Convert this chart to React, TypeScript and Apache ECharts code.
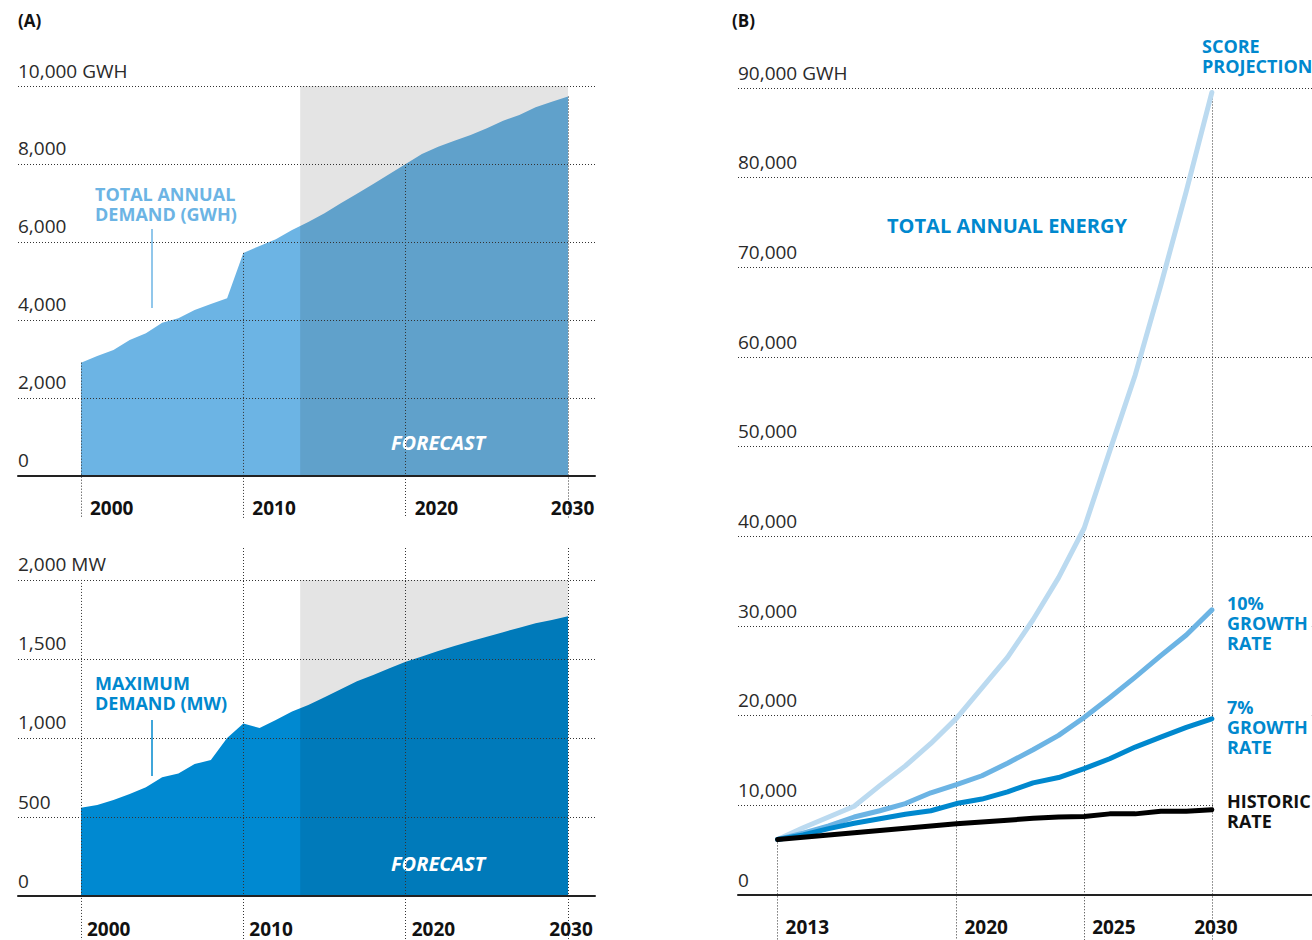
import React, { useEffect, useRef } from "react";
import * as echarts from "echarts";

// ---------- DATA ----------
const demandYears = [
  2000, 2001, 2002, 2003, 2004, 2005, 2006, 2007, 2008, 2009, 2010,
  2011, 2012, 2013, 2014, 2015, 2016, 2017, 2018, 2019, 2020,
  2021, 2022, 2023, 2024, 2025, 2026, 2027, 2028, 2029, 2030,
];
const annualDemandGWh = [
  2906, 3077, 3231, 3487, 3658, 3932, 4043, 4256, 4410, 4560, 5720,
  5900, 6068, 6308, 6513, 6735, 6991, 7239, 7487, 7744, 8000,
  8256, 8444, 8598, 8744, 8915, 9111, 9256, 9453, 9598, 9730,
];
const maxDemandMW = [
  559, 576, 608, 646, 688, 751, 776, 835, 861, 1000, 1092,
  1063, 1114, 1167, 1209, 1257, 1308, 1359, 1399, 1441, 1483,
  1515, 1551, 1582, 1612, 1641, 1669, 1698, 1726, 1747, 1770,
];
const forecastStart = 2013.5;
const forecastEnd = 2030;
const gwhTicks = [0, 2000, 4000, 6000, 8000, 10000];
const mwTicks = [0, 500, 1000, 1500, 2000];
const demandYearTicks = [2000, 2010, 2020, 2030];

const energyYears = [
  2013, 2014, 2015, 2016, 2017, 2018, 2019, 2020, 2021,
  2022, 2023, 2024, 2025, 2026, 2027, 2028, 2029, 2030,
];
const scoreProjection = [
  6200, 7500, 8700, 9900, 12200, 14400, 16900, 19700, 23100,
  26500, 30700, 35400, 40900, 49500, 58000, 68000, 78500, 89500,
];
const growth10 = [
  6200, 6900, 7700, 8700, 9400, 10200, 11400, 12300, 13300,
  14700, 16200, 17800, 19800, 22000, 24300, 26700, 29000, 31800,
];
const growth7 = [
  6200, 6700, 7400, 8000, 8500, 9000, 9400, 10200, 10700,
  11500, 12500, 13100, 14100, 15200, 16500, 17600, 18700, 19650,
];
const historicRate = [
  6200, 6450, 6700, 6950, 7200, 7450, 7700, 7950, 8150,
  8350, 8550, 8700, 8750, 9050, 9050, 9350, 9350, 9520,
];
const energyTicks = [0, 10000, 20000, 30000, 40000, 50000, 60000, 70000, 80000, 90000];
const energyYearTicks = [2013, 2020, 2025, 2030];

// ---------- STYLE ----------
const FONT = "'Open Sans', 'Noto Sans', sans-serif";
const BLUE = "#0088ce";
const LIGHT = "#6cb4e4";
const PALE = "#bbdaf0";
const DOT = { type: [1, 2] as any, color: "#333", width: 1 };

const pairs = (xs: number[], ys: number[]) => xs.map((x, i) => [x, ys[i]]);
const fmt = (v: number) => v.toLocaleString("en-US");

function hGrid(ticks: number[], unit: string) {
  const top = ticks[ticks.length - 1];
  return ticks.map((v) => ({
    yAxis: v,
    lineStyle: v === 0 ? { color: "rgba(0,0,0,0)" } : {},
    label: { show: true, formatter: v === top ? `${fmt(v)} ${unit}` : fmt(v) },
  }));
}

function vLines(xs: number[], topOf: (x: number) => number, bottom: number) {
  return xs.map((x) => [{ coord: [x, topOf(x)] }, { coord: [x, bottom] }]);
}

const gridLabel = {
  show: false,
  position: "insideStartTop",
  distance: [0, 6],
  color: "#2a2a2a",
  fontSize: 19,
  fontFamily: FONT,
};

function xAxisCfg(gridIndex: number, min: number, max: number, ticks: number[], margin: number, pad: number) {
  return {
    type: "value",
    gridIndex,
    min,
    max,
    z: 6,
    axisLine: { onZero: true, lineStyle: { color: "#222", width: 2 } },
    axisTick: { show: false },
    splitLine: { show: false },
    axisLabel: {
      customValues: ticks,
      align: "left",
      alignMaxLabel: "center",
      margin,
      lineHeight: 16,
      padding: [0, 0, 0, pad],
      color: "#111",
      fontSize: 19,
      fontWeight: "bold",
      fontFamily: FONT,
      formatter: (v: number) => String(v),
    },
  };
}

function yAxisCfg(gridIndex: number, min: number, max: number) {
  return { type: "value", gridIndex, min, max, show: false };
}

const forecastLabel = {
  show: true,
  position: "insideBottom",
  distance: 23,
  offset: [4, 0],
  formatter: "FORECAST",
  color: "#fff",
  fontSize: 20,
  fontWeight: "bold",
  fontStyle: "italic",
  fontFamily: FONT,
};

function buildOption() {
  const gwhTop = gwhTicks[gwhTicks.length - 1];
  const mwTop = mwTicks[mwTicks.length - 1];
  const valAt = (arr: number[], years: number[]) => (x: number) => arr[years.indexOf(x)];

  const txt = (
    text: string,
    x: number,
    y: number,
    fill: string,
    size: number,
    lh: number,
    align = "left",
    knockout = 0
  ) => ({
    type: "text",
    x: x - knockout,
    y,
    silent: true,
    z: 20,
    style: {
      text,
      fill,
      font: `bold ${size}px ${FONT}`,
      lineHeight: lh,
      align,
      verticalAlign: "top",
      ...(knockout ? { backgroundColor: "#fff", padding: [0, 4, 0, knockout] } : {}),
    },
  });
  const vline = (x: number, y1: number, y2: number, stroke: string) => ({
    type: "line",
    silent: true,
    shape: { x1: x, y1, x2: x, y2 },
    style: { stroke, lineWidth: 1.5 },
  });

  return {
    animation: false,
    backgroundColor: "#fff",
    textStyle: { fontFamily: FONT },
    grid: [
      { left: 18, right: 717, top: 86, bottom: 422, outerBoundsMode: "none", containLabel: false },
      { left: 18, right: 717, top: 548, bottom: 0, outerBoundsMode: "none", containLabel: false },
      { left: 738, right: 0, top: 88, bottom: 0, outerBoundsMode: "none", containLabel: false },
    ],
    xAxis: [
      xAxisCfg(0, 1996.12, 2031.66, demandYearTicks, -18.5, 9),
      xAxisCfg(1, 1996.12, 2031.66, demandYearTicks, -19, 6),
      xAxisCfg(2, 2011.45, 2033.92, energyYearTicks, -21, 8),
    ],
    yAxis: [yAxisCfg(0, -1077, 10000), yAxisCfg(1, -278, 2202), yAxisCfg(2, -5017, 90000)],
    graphic: [
      txt("(A)", 18, 11, "#111", 17, 18),
      txt("(B)", 732, 11, "#111", 17, 18),
      txt("TOTAL ANNUAL\nDEMAND (GWH)", 95, 184, LIGHT, 18, 20),
      vline(152, 229, 308, LIGHT),
      txt("MAXIMUM\nDEMAND (MW)", 95, 673, BLUE, 18, 20),
      vline(152, 720, 776, BLUE),
      txt("TOTAL ANNUAL ENERGY", 1007, 213, BLUE, 20, 24, "center"),
      txt("SCORE\nPROJECTION", 1202, 36, BLUE, 18, 20),
      txt("10%\nGROWTH\nRATE", 1227, 593, BLUE, 18, 20, "left", 12),
      txt("7%\nGROWTH\nRATE", 1227, 697, BLUE, 18, 20, "left", 12),
      txt("HISTORIC\nRATE", 1227, 791, "#111", 18, 20, "left", 12),
    ],
    series: [
      {
        name: "Total annual demand (GWh)",
        type: "line",
        xAxisIndex: 0,
        yAxisIndex: 0,
        data: pairs(demandYears, annualDemandGWh),
        symbol: "none",
        clip: false,
        lineStyle: { width: 0 },
        areaStyle: { color: LIGHT, opacity: 1 },
        z: 2,
        markArea: {
          silent: true,
          z: 3,
          itemStyle: { color: "rgba(0,0,0,0.105)" },
          label: forecastLabel,
          data: [[{ xAxis: forecastStart, yAxis: gwhTop }, { xAxis: forecastEnd, yAxis: 0 }]],
        },
        markLine: {
          silent: true,
          z: 5,
          symbol: ["none", "none"],
          lineStyle: DOT,
          label: gridLabel,
          data: [
            ...hGrid(gwhTicks, "GWH"),
            ...vLines(demandYearTicks, valAt(annualDemandGWh, demandYears), -1077),
          ],
        },
      },
      {
        name: "Maximum demand (MW)",
        type: "line",
        xAxisIndex: 1,
        yAxisIndex: 1,
        data: pairs(demandYears, maxDemandMW),
        symbol: "none",
        clip: false,
        lineStyle: { width: 0 },
        areaStyle: { color: "#0089d1", opacity: 1 },
        z: 2,
        markArea: {
          silent: true,
          z: 3,
          itemStyle: { color: "rgba(0,0,0,0.105)" },
          label: forecastLabel,
          data: [[{ xAxis: forecastStart, yAxis: mwTop }, { xAxis: forecastEnd, yAxis: 0 }]],
        },
        markLine: {
          silent: true,
          z: 5,
          symbol: ["none", "none"],
          lineStyle: DOT,
          label: gridLabel,
          data: [
            ...hGrid(mwTicks, "MW"),
            ...vLines(demandYearTicks, (x) => (x === demandYearTicks[0] ? mwTop : 2202), -278),
          ],
        },
      },
      {
        name: "Score projection",
        type: "line",
        xAxisIndex: 2,
        yAxisIndex: 2,
        data: pairs(energyYears, scoreProjection),
        symbol: "none",
        clip: false,
        lineStyle: { width: 5, color: PALE, cap: "round", join: "round" },
        z: 2,
        markLine: {
          silent: true,
          z: 1,
          symbol: ["none", "none"],
          lineStyle: DOT,
          label: gridLabel,
          data: [
            ...hGrid(energyTicks, "GWH"),
            ...vLines(energyYearTicks, valAt(scoreProjection, energyYears), -5017),
          ],
        },
      },
      {
        name: "10% growth rate",
        type: "line",
        xAxisIndex: 2,
        yAxisIndex: 2,
        data: pairs(energyYears, growth10),
        symbol: "none",
        lineStyle: { width: 5, color: LIGHT, cap: "round", join: "round" },
        z: 3,
      },
      {
        name: "7% growth rate",
        type: "line",
        xAxisIndex: 2,
        yAxisIndex: 2,
        data: pairs(energyYears, growth7),
        symbol: "none",
        lineStyle: { width: 5, color: BLUE, cap: "round", join: "round" },
        z: 4,
      },
      {
        name: "Historic rate",
        type: "line",
        xAxisIndex: 2,
        yAxisIndex: 2,
        data: pairs(energyYears, historicRate),
        symbol: "none",
        lineStyle: { width: 5, color: "#000", cap: "round", join: "round" },
        z: 5,
      },
    ],
  };
}

export default function App() {
  const ref = useRef<HTMLDivElement>(null);
  useEffect(() => {
    if (!ref.current) return;
    const chart = echarts.init(ref.current, undefined, { renderer: "svg" });
    chart.setOption(buildOption() as any);
    return () => chart.dispose();
  }, []);
  return (
    <div
      ref={ref}
      style={{ position: "fixed", left: 0, top: 0, width: 1312, height: 940, background: "#fff" }}
    />
  );
}
